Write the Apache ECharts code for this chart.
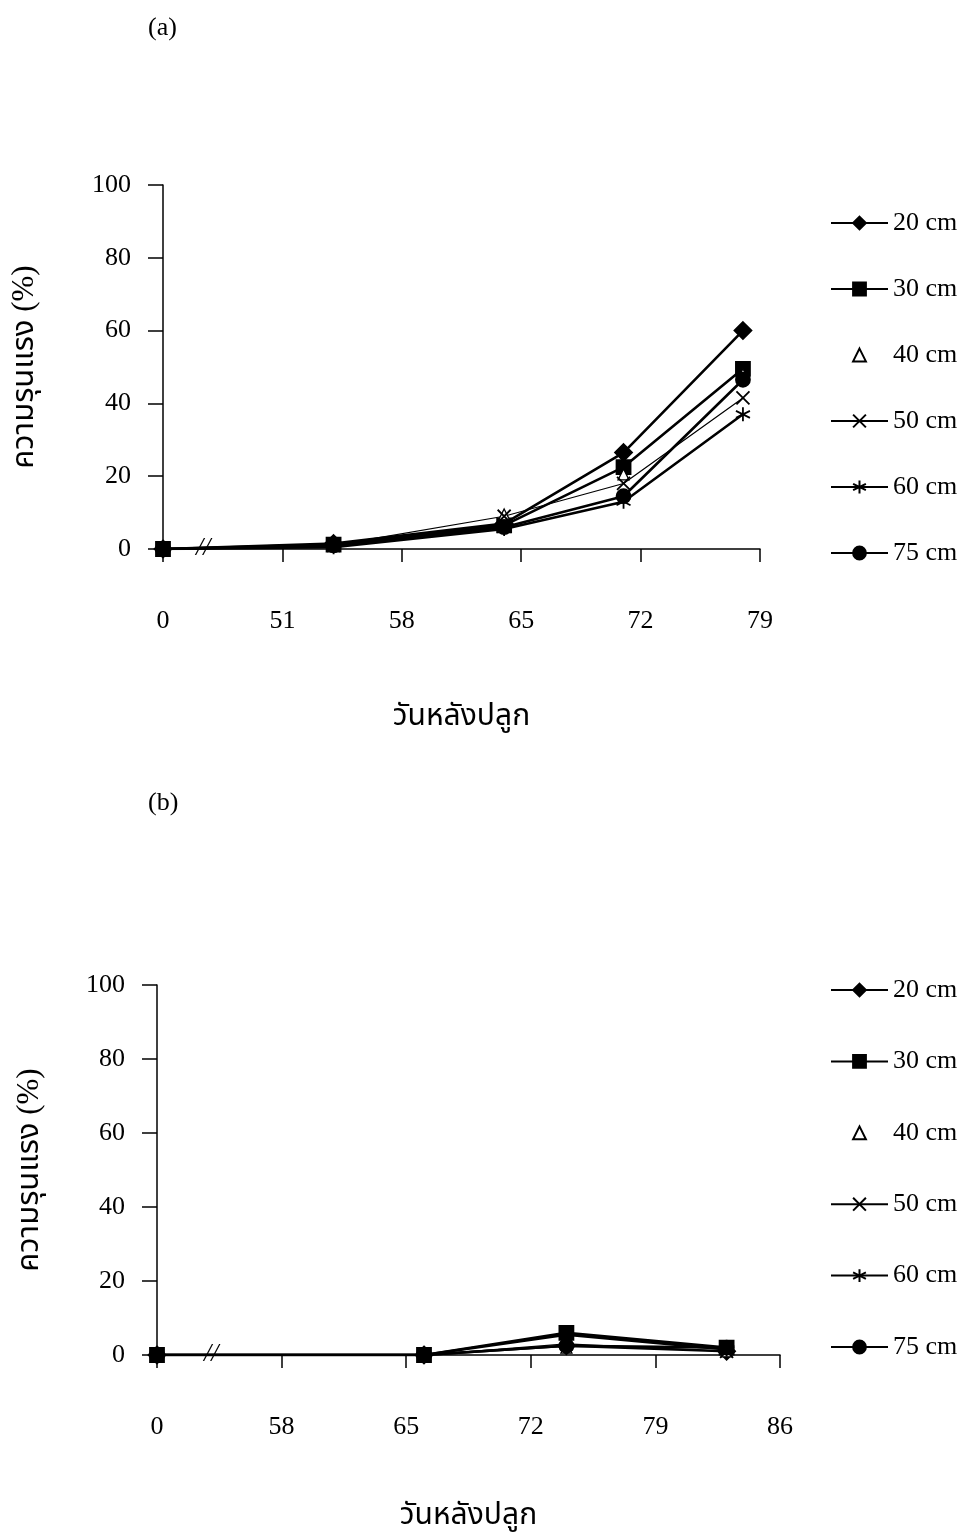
<!DOCTYPE html>
<html>
<head>
<meta charset="utf-8">
<script src="https://cdn.jsdelivr.net/npm/echarts@6/dist/echarts.min.js"></script>
<style>
html,body{margin:0;padding:0;background:#fff;}
#chart{width:968px;height:1535px;}
</style>
</head>
<body>
<div id="chart"></div>
<script>
// ---------- data ----------
const seriesNames = ['20 cm', '30 cm', '40 cm', '50 cm', '60 cm', '75 cm'];

// panel (a): days after planting (0 is drawn at the axis break)
const daysA = [0, 54, 64, 71, 78];
const ticksA = ['0', '51', '58', '65', '72', '79'];
const breakBaseA = 44;
const a20 = [0, 1.5, 7, 26.5, 60];
const a30 = [0, 1.2, 6.5, 22.5, 49.5];
const a40 = [0, 1, 9.5, 20.5, 48];
const a50 = [0, 1, 9, 18, 41.5];
const a60 = [0, 0.5, 5.5, 13, 37];
const a75 = [0, 1, 6, 14.5, 46.5];

// panel (b)
const daysB = [0, 66, 74, 83];
const ticksB = ['0', '58', '65', '72', '79', '86'];
const breakBaseB = 51;
const b20 = [0, 0, 2.5, 1];
const b30 = [0, 0, 6, 2];
const b40 = [0, 0, 2, 1];
const b50 = [0, 0, 3, 1];
const b60 = [0, 0, 5.5, 1.5];
const b75 = [0, 0, 2.5, 2];

const yTicks = [0, 20, 40, 60, 80, 100];
const yTitle = 'ความรุนแรง (%)';
const xTitle = 'วันหลังปลูก';

// ---------- styles ----------
const serif = '"Liberation Serif", "Times New Roman", serif';
const thaiFont = '"Liberation Serif", "Noto Sans Thai", "Noto Serif Thai", serif';
const X_PATH = 'path://M0,0L10,10M10,0L0,10';
const STAR_PATH = 'path://M5,0L5,10M0.7,2.5L9.3,7.5M9.3,2.5L0.7,7.5';
const styles = {
  '20 cm': {symbol: 'diamond', symbolSize: 17, width: 2.6, fill: '#000'},
  '30 cm': {symbol: 'rect', symbolSize: 14, width: 2.6, fill: '#000'},
  '40 cm': {symbol: 'triangle', symbolSize: 11, width: 0, fill: '#fff'},
  '50 cm': {symbol: X_PATH, symbolSize: 13, width: 1.2, fill: '#000'},
  '60 cm': {symbol: STAR_PATH, symbolSize: 14, width: 2.6, fill: '#000'},
  '75 cm': {symbol: 'circle', symbolSize: 14, width: 2.6, fill: '#000'}
};

function toAxis(d, base) { return d === 0 ? 0 : d - base; }

function makeSeries(name, days, vals, base, idx) {
  const s = styles[name];
  return {
    type: 'line', name: name, xAxisIndex: idx, yAxisIndex: idx,
    data: days.map((d, i) => [toAxis(d, base), vals[i]]),
    symbol: s.symbol, symbolSize: s.symbolSize, showSymbol: true,
    lineStyle: {color: '#000', width: s.width, opacity: s.width === 0 ? 0 : 1},
    itemStyle: {color: s.fill, borderColor: '#000', borderWidth: s.fill === '#fff' ? 1.3 : 1.8},
    emphasis: {disabled: true},
    animation: false
  };
}

const seriesA = [a20, a30, a40, a50, a60, a75];
const seriesB = [b20, b30, b40, b50, b60, b75];

function xAxis(idx, ticks, gap) {
  return {
    type: 'value', gridIndex: idx, min: 0, max: 35, interval: 7,
    axisLine: {show: true, onZero: false, lineStyle: {color: '#000', width: 1.5}},
    axisTick: {show: true, length: 13, lineStyle: {color: '#000', width: 1.5}},
    splitLine: {show: false},
    axisLabel: {margin: 59, color: '#000', fontFamily: serif, fontSize: 26,
      formatter: v => ticks[Math.round(v / 7)]},
    name: xTitle, nameLocation: 'middle', nameGap: gap,
    nameTextStyle: {color: '#000', fontFamily: thaiFont, fontSize: 30}
  };
}
function yAxis(idx, gap) {
  return {
    type: 'value', gridIndex: idx, min: 0, max: 100, interval: 20,
    axisLine: {show: true, lineStyle: {color: '#000', width: 1.5}},
    axisTick: {show: true, length: 15, lineStyle: {color: '#000', width: 1.5}},
    splitLine: {show: false},
    axisLabel: {margin: 32, color: '#000', fontFamily: serif, fontSize: 26,
      formatter: v => yTicks.includes(v) ? String(v) : ''},
    name: yTitle, nameLocation: 'middle', nameGap: gap, nameRotate: 90,
    nameTextStyle: {color: '#000', fontFamily: thaiFont, fontSize: 31}
  };
}

const series = [];
seriesNames.forEach((n, i) => series.push(makeSeries(n, daysA, seriesA[i], breakBaseA, 0)));
seriesNames.forEach((n, i) => series.push(makeSeries(n, daysB, seriesB[i], breakBaseB, 1)));

function legend(top, gap) {
  return {
    orient: 'vertical', left: 825, top: top, itemWidth: 57, itemHeight: 16, itemGap: gap,
    data: seriesNames, selectedMode: false,
    textStyle: {color: '#000', fontFamily: serif, fontSize: 26, lineHeight: 26, padding: [0, 0, 0, 0]}
  };
}

const chart = echarts.init(document.getElementById('chart'), null, {renderer: 'canvas'});
chart.setOption({
  backgroundColor: '#fff',
  animation: false,
  grid: [
    {left: 163, top: 185, width: 597, height: 364, outerBoundsMode: 'none', containLabel: false},
    {left: 157, top: 985, width: 623, height: 370, outerBoundsMode: 'none', containLabel: false}
  ],
  xAxis: [xAxis(0, ticksA, 153), xAxis(1, ticksB, 146)],
  yAxis: [yAxis(0, 123), yAxis(1, 112)],
  legend: [legend(205, 40), legend(972, 45.4)],
  series: series,
  graphic: [
    {type: 'text', left: 148, top: 15, style: {text: '(a)', font: '26px ' + serif, fill: '#000'}},
    {type: 'text', left: 148, top: 790, style: {text: '(b)', font: '26px ' + serif, fill: '#000'}},
    {type: 'text', left: 196, top: 535, style: {text: '//', font: 'italic 26px ' + serif, fill: '#000'}},
    {type: 'text', left: 204, top: 1341, style: {text: '//', font: 'italic 26px ' + serif, fill: '#000'}}
  ]
});
</script>
</body>
</html>
